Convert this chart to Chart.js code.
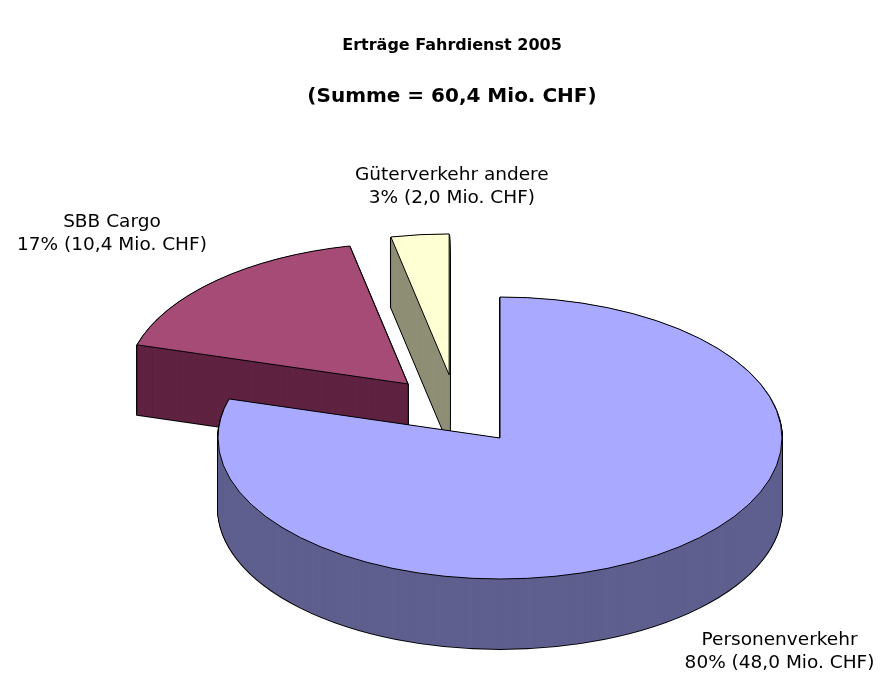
<!DOCTYPE html>
<html><head><meta charset="utf-8">
<script src="https://cdn.jsdelivr.net/npm/chart.js@4.4.0/dist/chart.umd.min.js"></script>
<style>html,body{margin:0;padding:0;background:#fff;} canvas{display:block;}</style>
</head><body>
<canvas id="c" width="882" height="673"></canvas>
<script>
// ---- data ----
const titleText = 'Erträge Fahrdienst 2005';
const subtitleText = '(Summe = 60,4 Mio. CHF)';
const categories = ['Personenverkehr', 'SBB Cargo', 'Güterverkehr andere'];
const valuesMio = [48.0, 10.4, 2.0];
const percentLabels = ['80%', '17%', '3%'];
const amountLabels = ['48,0 Mio. CHF', '10,4 Mio. CHF', '2,0 Mio. CHF'];

// ---- styles ----
const topColors = ['#A9A9FF', '#A64A76', '#FFFFD4'];
const sideColors = ['#5F5F8F', '#5F2341', '#8F8F76'];
const explodeDistance = [0, 142, 136];
const explodeTilt = [0, 2.5, -16];
const labelShift = [[110, 101], [-104, -47], [32, -48]];
const TILT = 0.5, DEPTH = 70;
const FONT = '"DejaVu Sans", Verdana, sans-serif';

function wedge(ctx, cx, cy, rx, ry, a0, a1) {
  ctx.beginPath();
  ctx.moveTo(cx, cy);
  ctx.ellipse(cx, cy, rx, ry, 0, a0, a1, false);
  ctx.closePath();
}

function geometry(el, i) {
  const p = el.getProps(['x', 'y', 'startAngle', 'endAngle', 'outerRadius'], true);
  const mid = (p.startAngle + p.endAngle) / 2;
  const dir = mid + explodeTilt[i] * Math.PI / 180;
  const d = explodeDistance[i];
  return {
    cx: p.x + Math.cos(dir) * d,
    cy: p.y + Math.sin(dir) * d * TILT,
    rx: p.outerRadius, ry: p.outerRadius * TILT,
    a0: p.startAngle, a1: p.endAngle, mid
  };
}

const pie3d = {
  id: 'pie3d',
  beforeDatasetsDraw(chart) {
    const ctx = chart.ctx;
    const els = chart.getDatasetMeta(0).data;
    const order = [2, 1, 0];
    ctx.save();
    order.forEach(i => {
      const g = geometry(els[i], i);
      ctx.lineJoin = 'round';
      ctx.lineWidth = 2; ctx.strokeStyle = '#000';
      for (let k = 1; k <= DEPTH; k++) { wedge(ctx, g.cx, g.cy + k, g.rx, g.ry, g.a0, g.a1); ctx.stroke(); }
      ctx.fillStyle = sideColors[i];
      for (let k = DEPTH; k >= 1; k--) { wedge(ctx, g.cx, g.cy + k, g.rx, g.ry, g.a0, g.a1); ctx.fill(); }
      wedge(ctx, g.cx, g.cy, g.rx, g.ry, g.a0, g.a1);
      ctx.fillStyle = els[i].options.backgroundColor; ctx.fill();
      ctx.lineWidth = 1; ctx.strokeStyle = els[i].options.borderColor; ctx.stroke();
    });
    ctx.restore();
    return false;
  },
  afterDraw(chart) {
    const ctx = chart.ctx;
    const els = chart.getDatasetMeta(0).data;
    ctx.save();
    ctx.fillStyle = '#000';
    ctx.textAlign = 'center';
    ctx.textBaseline = 'middle';
    ctx.font = 'bold 16px ' + FONT;
    ctx.fillText(titleText, 452, 46);
    ctx.font = 'bold 20px ' + FONT;
    ctx.fillText(subtitleText, 452, 97);
    ctx.font = '18.5px ' + FONT;
    els.forEach((el, i) => {
      const g = geometry(el, i);
      const ax = g.cx + Math.cos(g.mid) * g.rx + labelShift[i][0];
      const ay = g.cy + Math.sin(g.mid) * g.ry + labelShift[i][1];
      ctx.fillText(categories[i], ax, ay - 11.5);
      ctx.fillText(percentLabels[i] + ' (' + amountLabels[i] + ')', ax, ay + 11.5);
    });
    ctx.restore();
  }
};

new Chart(document.getElementById('c'), {
  type: 'pie',
  data: {
    labels: categories,
    datasets: [{ data: valuesMio, backgroundColor: topColors, borderColor: '#000', borderWidth: 1 }]
  },
  options: {
    responsive: false,
    animation: false,
    radius: 282,
    layout: { padding: { left: 118, top: 203, right: 0, bottom: 0 } },
    plugins: { legend: { display: false }, tooltip: { enabled: false }, title: { display: false } }
  },
  plugins: [pie3d]
});
</script>
</body></html>
